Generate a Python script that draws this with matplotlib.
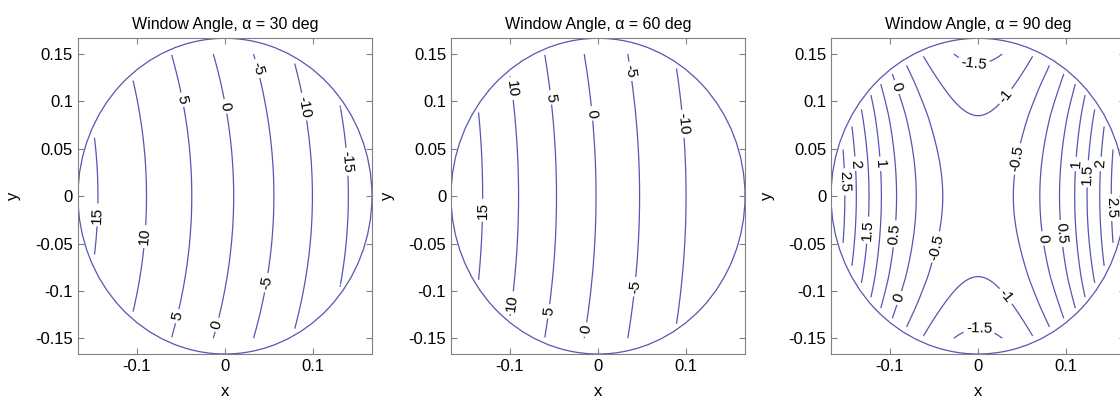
import numpy as np
import matplotlib.pyplot as plt
from matplotlib.patches import Circle
from matplotlib.ticker import FuncFormatter

plt.rcParams['font.family'] = ['Liberation Sans', 'DejaVu Sans']
plt.rcParams['contour.negative_linestyle'] = 'solid'

# Window radius and the region where the solution exists
R = 1.0 / 6.0
R_DATA = 0.162
Y_DATA = 0.15

# alpha = 30 deg: contour levels and where each crosses y = 0
levels_30 = [15, 10, 5, 0, -5, -10, -15]
xcross_30 = [-0.144, -0.0889, -0.0376, 0.0099, 0.0555, 0.0992, 0.1399]
# x position of the 5, 0, -5 contours at y = 0.15 (shows the bend)
top_levels_30 = [5, 0, -5]
xtop_30 = [-0.0612, -0.0129, 0.0327]

# alpha = 60 deg
levels_60 = [15, 10, 5, 0, -5, -10]
xcross_60 = [-0.1308, -0.0901, -0.0471, -0.0023, 0.0471, 0.0998]
top_levels_60 = [5, 0, -5]
xtop_60 = [-0.0596, -0.0148, 0.0319]

# alpha = 90 deg: values along y = 0 (symmetric in x) and along x = 0
center_90 = -0.75
xlevels_90 = [-0.5, 0, 0.5, 1, 1.5, 2, 2.5]
xcross_90 = [0.040, 0.070, 0.0924, 0.1096, 0.1236, 0.138, 0.151]
ylevels_90 = [-1, -1.5]
ycross_90 = [0.085, 0.14]

# where the contour labels sit
labels_30 = [(-0.1407, -0.020), (-0.0875, -0.043), (-0.053, 0.101), (-0.053, -0.127),
             (-0.004, 0.094), (-0.008, -0.136), (0.034, 0.134), (0.051, -0.092),
             (0.087, 0.094), (0.133, 0.036)]
labels_60 = [(-0.1275, -0.015), (-0.103, 0.113), (-0.0936, -0.113), (-0.056, 0.104),
             (-0.052, -0.122), (-0.0106, 0.087), (-0.0094, -0.1416), (0.031, 0.131),
             (0.045, -0.096), (0.0913, 0.076)]
labels_90 = [(-0.005, 0.138), (0.035, 0.1026), (-0.099, 0.113), (-0.1445, 0.034),
             (-0.156, 0.015), (-0.114, 0.034), (-0.124, -0.036), (-0.092, -0.040),
             (-0.046, -0.054), (-0.088, -0.108), (0.031, -0.106), (0.001, -0.145),
             (0.046, 0.039), (0.110, 0.034), (0.125, 0.0235), (0.139, 0.034),
             (0.152, -0.012), (0.0706, -0.045), (0.0875, -0.040)]

line_color = '#5656b2'


def profile(u, xp, fp):
    # piecewise linear through the read points, straight on past the ends
    xp = np.asarray(xp, float)
    fp = np.asarray(fp, float)
    z = np.interp(u, xp, fp)
    lo = u < xp[0]
    hi = u > xp[-1]
    z[lo] = fp[0] + (u[lo] - xp[0]) * (fp[1] - fp[0]) / (xp[1] - xp[0])
    z[hi] = fp[-1] + (u[hi] - xp[-1]) * (fp[-1] - fp[-2]) / (xp[-1] - xp[-2])
    return z


g = np.linspace(-R, R, 141)
X, Y = np.meshgrid(g, g)
outside = (X**2 + Y**2 > R_DATA**2) | (np.abs(Y) > Y_DATA)


def shifted_field(levels, xcross, top_levels, xtop):
    idx = [levels.index(v) for v in top_levels]
    bend = np.mean(np.array(xcross)[idx] - np.array(xtop)) / Y_DATA**2
    Z = profile(X + bend * Y**2, xcross, levels)
    return np.ma.masked_where(outside, Z)


Z30 = shifted_field(levels_30, xcross_30, top_levels_30, xtop_30)
Z60 = shifted_field(levels_60, xcross_60, top_levels_60, xtop_60)

A = profile(X**2, np.r_[0, np.array(xcross_90)**2], np.r_[center_90, xlevels_90])
B = profile(Y**2, np.r_[0, np.array(ycross_90)**2], np.r_[0, np.array(ylevels_90) - center_90])
Z90 = np.ma.masked_where(outside, A + B)

panels = [
    ('Window Angle, α = 30 deg', Z30, levels_30, labels_30),
    ('Window Angle, α = 60 deg', Z60, levels_60, labels_60),
    ('Window Angle, α = 90 deg', Z90, xlevels_90 + ylevels_90, labels_90),
]

fig = plt.figure(figsize=(11.2, 4.01), dpi=100)
lefts = [0.0696, 0.4027, 0.7420]

for left, (title, Z, levels, pts) in zip(lefts, panels):
    ax = fig.add_axes([left, 0.1172, 0.2625, 0.7873])
    cs = ax.contour(X, Y, Z, levels=sorted(levels), colors=line_color,
                    linewidths=0.9, linestyles='solid')
    ax.clabel(cs, fmt='%g', fontsize=11, colors='k', inline=True,
              inline_spacing=3, manual=pts)
    ax.add_patch(Circle((0, 0), R, fill=False, color=line_color, lw=0.9))

    ax.set_xlim(-R, R)
    ax.set_ylim(-R, R)
    ax.set_xticks([-0.1, 0, 0.1])
    ax.set_yticks([-0.15, -0.1, -0.05, 0, 0.05, 0.1, 0.15])
    fmt = FuncFormatter(lambda v, p: f'{v:g}')
    ax.xaxis.set_major_formatter(fmt)
    ax.yaxis.set_major_formatter(fmt)
    ax.tick_params(direction='in', top=True, right=True, length=4,
                   labelsize=12, color='#808080')
    for s in ax.spines.values():
        s.set_color('#808080')
    ax.set_title(title, fontsize=11.5, pad=7)
    ax.set_xlabel('x', fontsize=12, labelpad=7)
    ax.set_ylabel('y', fontsize=12, labelpad=10)

fig.savefig('out.png', dpi=100)
